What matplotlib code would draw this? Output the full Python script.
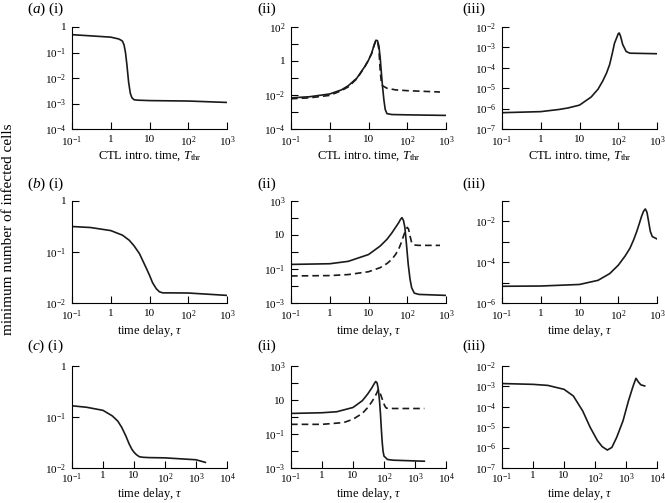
import numpy as np
import matplotlib
matplotlib.use('Agg')
import matplotlib.pyplot as plt

plt.rcParams['font.family'] = ['Liberation Serif', 'DejaVu Serif']
plt.rcParams['mathtext.fontset'] = 'custom'
plt.rcParams['mathtext.rm'] = 'Liberation Serif'
plt.rcParams['mathtext.it'] = 'Liberation Serif:italic'

# (a) CTL introduction time
a1_x = [0.1, 0.3, 1, 1.6, 1.8, 2.0, 2.2, 2.4, 2.6, 2.9, 3.2, 3.5, 4.0, 5, 10, 100, 1000]
a1_y = [0.5, 0.45, 0.4, 0.34, 0.31, 0.28, 0.2, 0.1, 0.035, 0.0066, 0.0025, 0.0017, 0.0014,
        0.00135, 0.0013, 0.00125, 0.0011]

a2_x = [0.1, 0.3, 1, 2, 3, 5, 8, 10, 12, 14, 15.5, 17, 18.5, 20, 21.5, 23, 25, 27, 30, 40, 100, 1000]
a2_y = [6.8e-3, 7.9e-3, 1.15e-2, 2.0e-2, 3.5e-2, 9.8e-2, 0.47, 1.12, 2.8, 8.9, 16.6, 15.8, 7.9,
        1.6, 0.2, 0.032, 0.005, 1.4e-3, 8e-4, 7.1e-4, 6.8e-4, 6.3e-4]
a2_xd = [0.1, 0.3, 1, 2, 3, 5, 8, 10, 12, 14, 15.5, 17, 18.5, 20, 21.5, 23, 30, 50, 100, 700]
a2_yd = [6e-3, 6.8e-3, 9.5e-3, 1.8e-2, 3.0e-2, 9e-2, 0.45, 1.1, 2.7, 8.5, 15.8, 15, 5, 0.3,
         0.05, 0.035, 0.025, 0.02, 0.018, 0.015]

a3_x = [0.1, 1, 3, 5, 10, 20, 30, 40, 50, 60, 70, 80, 90, 100, 106, 115, 130, 160, 200, 1000]
a3_y = [6.3e-7, 7.1e-7, 9.1e-7, 1.07e-6, 1.48e-6, 3.7e-6, 8.9e-6, 2.3e-5, 5.6e-5, 1.45e-4,
        5e-4, 1.6e-3, 2.8e-3, 4.7e-3, 5.1e-3, 3.5e-3, 1.4e-3, 6.3e-4, 5.2e-4, 4.9e-4]

# (b) time delay
b1_x = [0.1, 0.3, 1, 2, 3, 4, 5.5, 7, 8.5, 10, 12, 15, 18, 22, 30, 100, 1000]
b1_y = [0.316, 0.302, 0.263, 0.214, 0.17, 0.132, 0.093, 0.063, 0.046, 0.035, 0.025, 0.019,
        0.0166, 0.0158, 0.0158, 0.0157, 0.0141]

b2_x = [0.1, 1, 3, 10, 20, 30, 40, 50, 60, 67, 73, 80, 87, 95, 106, 118, 130, 152, 200, 1000]
b2_y = [0.186, 0.204, 0.282, 0.708, 2.24, 5.6, 13.2, 28.2, 52.5, 83, 105, 71, 27, 3.16,
        0.186, 0.025, 7.9e-3, 3.8e-3, 3.2e-3, 2.8e-3]
b2_xd = [0.1, 1, 3, 10, 20, 30, 40, 50, 60, 70, 80, 90, 100, 108, 118, 130, 150, 200, 700]
b2_yd = [0.039, 0.041, 0.047, 0.069, 0.12, 0.21, 0.37, 0.72, 1.45, 3.55, 8.7, 17.8, 28.2,
         22.4, 8.7, 3.55, 2.57, 2.45, 2.45]

b3_x = [0.1, 1, 10, 30, 60, 100, 150, 200, 250, 300, 350, 400, 450, 500, 550, 585, 673, 757, 1000]
b3_y = [6.6e-6, 6.8e-6, 8.1e-6, 1.29e-5, 2.75e-5, 7.1e-5, 2.0e-4, 4.8e-4, 1.26e-3, 3.2e-3,
        7.9e-3, 0.0178, 0.0316, 0.0407, 0.0282, 0.0148, 3.2e-3, 1.8e-3, 1.38e-3]

# (c) time delay, longer range
c1_x = [0.1, 0.3, 1, 2, 3, 4, 5.5, 7, 8.5, 10, 12, 15, 20, 30, 100, 1000, 2000]
c1_y = [0.166, 0.155, 0.135, 0.105, 0.083, 0.063, 0.042, 0.0295, 0.0234, 0.0204, 0.0182,
        0.0166, 0.0162, 0.016, 0.0158, 0.0145, 0.0129]

c2_x = [0.1, 1, 3, 10, 20, 30, 40, 48, 54, 60, 66, 72, 77, 82, 87, 93, 100, 130, 200, 2000]
c2_y = [1.62, 1.78, 2.04, 3.63, 9.1, 22.9, 50, 89, 123, 100, 39.8, 7.9, 1.48, 0.2, 0.038,
        0.01, 5e-3, 3.16e-3, 2.88e-3, 2.5e-3]
c2_xd = [0.1, 1, 5, 10, 20, 30, 40, 50, 58, 65, 72, 80, 90, 100, 110, 120, 200, 2000]
c2_yd = [0.37, 0.37, 0.47, 0.74, 1.62, 3.63, 7.6, 14.5, 25.1, 39.8, 31.6, 18.2, 10, 5.75,
         3.98, 3.31, 3.16, 3.16]

c3_x = [0.1, 1, 3, 10, 20, 40, 70, 120, 170, 250, 350, 500, 800, 1200, 1700, 2100, 2500, 3000, 4000]
c3_y = [1.38e-3, 1.26e-3, 1.12e-3, 7.2e-4, 3.4e-4, 6.3e-5, 9.8e-6, 2.2e-6, 1.12e-6, 7.6e-7,
        1.02e-6, 3.16e-6, 2.04e-5, 1.95e-4, 1.05e-3, 2.5e-3, 1.66e-3, 1.2e-3, 1.05e-3]

xlab_ctl = r'CTL intro. time, $T_{\rm thr}$'
xlab_tau = r'time delay, $\tau$'


def lab(e):
    if e == 0:
        return '1'
    if e == 1:
        return '10'
    return r'$10^{%d}$' % e


W, H = 665, 503
fig = plt.figure(figsize=(W / 100, H / 100), dpi=100)

lefts = [72, 291, 502]
tops = [27, 201, 366]
aw, ah = 155, 102
xpads = [4, 4, 2.5]


def panel(row, col, xmax, ylo, yhi, step, xlabel, lines):
    ax = fig.add_axes([lefts[col] / W, 1 - (tops[row] + ah) / H, aw / W, ah / H])
    for x, y, dashed in lines:
        l, = ax.plot(x, y, color='#1a1a1a', lw=1.2)
        if dashed:
            l.set_dashes((4, 2.4))
    ax.set_xscale('log')
    ax.set_yscale('log')
    ax.set_xlim(0.1, 10 ** xmax)
    ax.set_ylim(10.0 ** ylo, 10.0 ** yhi)
    xe = list(range(-1, xmax + 1))
    ax.set_xticks([10.0 ** e for e in xe], [lab(e) for e in xe])
    ye = list(range(ylo, yhi + 1))
    ax.set_yticks([10.0 ** e for e in ye],
                  [lab(e) if (e - ylo) % step == 0 else '' for e in ye])
    ax.minorticks_off()
    ax.tick_params(direction='in', length=5, width=0.8, labelsize=8, pad=4)
    ax.tick_params(axis='x', pad=xpads[row])
    ax.spines['top'].set_visible(False)
    ax.spines['right'].set_visible(False)
    ax.set_xlabel(xlabel, fontsize=9, labelpad=0)
    return ax


panel(0, 0, 3, -4, 0, 1, xlab_ctl, [(a1_x, a1_y, False)])
panel(0, 1, 3, -4, 2, 2, xlab_ctl, [(a2_x, a2_y, False), (a2_xd, a2_yd, True)])
panel(0, 2, 3, -7, -2, 1, xlab_ctl, [(a3_x, a3_y, False)])
panel(1, 0, 3, -2, 0, 1, xlab_tau, [(b1_x, b1_y, False)])
panel(1, 1, 3, -3, 3, 2, xlab_tau, [(b2_x, b2_y, False), (b2_xd, b2_yd, True)])
panel(1, 2, 3, -6, -1, 2, xlab_tau, [(b3_x, b3_y, False)])
panel(2, 0, 4, -2, 0, 1, xlab_tau, [(c1_x, c1_y, False)])
panel(2, 1, 4, -3, 3, 2, xlab_tau, [(c2_x, c2_y, False), (c2_xd, c2_yd, True)])
panel(2, 2, 4, -7, -2, 1, xlab_tau, [(c3_x, c3_y, False)])

# panel labels
row_y = [9, 184, 346]
letters = ['a', 'b', 'c']
for r in range(3):
    fy = 1 - row_y[r] / H
    fig.text(27 / W, fy, r'($%s$) (i)' % letters[r], fontsize=11, va='center', ha='left')
    fig.text(257 / W, fy, '(ii)', fontsize=11, va='center', ha='left')
    fig.text(462 / W, fy, '(iii)', fontsize=11, va='center', ha='left')

fig.text(9 / W, 1 - 229 / H, 'minimum number of infected cells', rotation=90,
         fontsize=11, va='center', ha='center')

fig.savefig('out.png', dpi=100)
